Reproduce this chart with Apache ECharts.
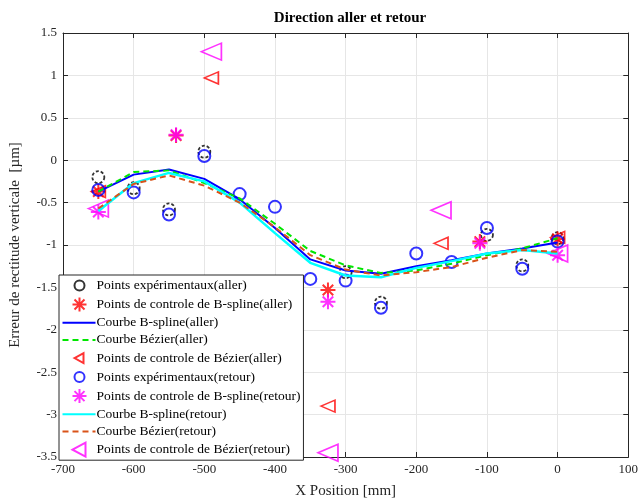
<!DOCTYPE html>
<html>
<head>
<meta charset="utf-8">
<script src="https://cdn.jsdelivr.net/npm/echarts@6/dist/echarts.min.js"></script>
<style>
  html, body { margin: 0; padding: 0; background: #fff; }
  #chart { width: 641px; height: 504px; }
</style>
</head>
<body>
<div id="chart"></div>
<script>
// Positions along the axis (mm) where the fitted curves are evaluated
const curveX = [-650, -600, -550, -500, -450, -400, -350, -300, -250, -200, -150, -100, -50, 0];

// Fitted curves (µm)
const bsplineAller  = [-0.37, -0.17, -0.11, -0.22, -0.46, -0.80, -1.17, -1.30, -1.34, -1.25, -1.18, -1.10, -1.04, -0.97];
const bezierAller   = [-0.37, -0.14, -0.12, -0.27, -0.45, -0.75, -1.07, -1.24, -1.33, -1.30, -1.22, -1.12, -1.04, -0.92];
const bsplineRetour = [-0.60, -0.27, -0.15, -0.25, -0.50, -0.86, -1.21, -1.36, -1.38, -1.27, -1.19, -1.10, -1.06, -1.10];
const bezierRetour  = [-0.57, -0.28, -0.18, -0.30, -0.50, -0.79, -1.12, -1.29, -1.36, -1.32, -1.26, -1.15, -1.06, -1.08];

// Measured points, forward run
const expAllerX = [-650, -600, -550, -500, -300, -250, -100, -50, 0];
const expAllerY = [-0.20, -0.33, -0.58, 0.10, -1.32, -1.68, -0.88, -1.24, -0.92];

// Measured points, return run
const expRetourX = [-650, -600, -550, -500, -450, -400, -350, -300, -250, -200, -150, -100, -50, 0];
const expRetourY = [-0.35, -0.38, -0.64, 0.05, -0.40, -0.55, -1.40, -1.42, -1.74, -1.10, -1.20, -0.80, -1.28, -0.96];

// B-spline control points
const ctrlBsAllerX  = [-650, -540, -325, -110, 0];
const ctrlBsAllerY  = [-0.37, 0.29, -1.53, -0.96, -0.93];
const ctrlBsRetourX = [-650, -540, -325, -110, 0];
const ctrlBsRetourY = [-0.61, 0.30, -1.67, -0.98, -1.12];

// Bézier control points
const ctrlBzAllerX  = [-650, -490, -325, -165, 0];
const ctrlBzAllerY  = [-0.37, 0.97, -2.90, -0.98, -0.91];
const ctrlBzRetourX = [-650, -490, -325, -165, 0];
const ctrlBzRetourY = [-0.57, 1.28, -3.45, -0.59, -1.10];

// Axis ranges
const xRange = { min: -700, max: 100, step: 100 };
const yRange = { min: -3.5, max: 1.5, step: 0.5 };

const seriesNames = [
  'Points expérimentaux(aller)',
  'Points de controle de B-spline(aller)',
  'Courbe B-spline(aller)',
  'Courbe Bézier(aller)',
  'Points de controle de Bézier(aller)',
  'Points expérimentaux(retour)',
  'Points de controle de B-spline(retour)',
  'Courbe B-spline(retour)',
  'Courbe Bézier(retour)',
  'Points de controle de Bézier(retour)'
];

const zip = (xs, ys) => xs.map((x, i) => [x, ys[i]]);
const serif = '"Liberation Serif", "DejaVu Serif", serif';
const asterisk = 'path://M10,0L10,20M0,10L20,10M3,3L17,17M3,17L17,3';

// Legend glyphs: an invisible 33x14 frame (two move-to points) keeps each glyph
// centred in the icon slot at its own size.
const frame = 'path://M0,0M33,14';
const legendIcons = {
  circle:    frame + 'M22,7A5,5,0,1,1,12,7A5,5,0,1,1,22,7Z',
  asterisk:  frame + 'M17,0L17,14M10,7L24,7M12,2L22,12M12,12L22,2',
  triSmall:  frame + 'M12,7L21,2L21,12Z',
  triLarge:  frame + 'M10,7L23,0L23,14Z'
};

function scatter(name, data, symbol, size, color, extra) {
  return Object.assign({
    name, type: 'scatter', data, symbol, symbolSize: size,
    itemStyle: { color: 'none', borderColor: color, borderWidth: 1.6 },
    emphasis: { disabled: true }
  }, extra || {});
}
function curve(name, data, color, width, dashed) {
  return {
    name, type: 'line', data, symbol: 'none', showSymbol: false,
    lineStyle: { color, width, type: dashed ? [6, 4] : 'solid' },
    itemStyle: { color },
    emphasis: { disabled: true }
  };
}

const chart = echarts.init(document.getElementById('chart'), null, { renderer: 'canvas' });

const axisCommon = {
  axisLine: { show: true, onZero: false, lineStyle: { color: '#262626', width: 1 } },
  axisTick: { show: true, inside: true, length: 5, lineStyle: { color: '#262626' } },
  splitLine: { show: false },
  axisLabel: { show: false }
};

const lineLegend = (name) => ({ name, itemStyle: { opacity: 0 } });

chart.setOption({
  animation: false,
  backgroundColor: '#fff',
  title: {
    text: 'Direction aller et retour',
    left: 345, top: 6, textAlign: 'center',
    textStyle: { fontFamily: serif, fontSize: 15, fontWeight: 'bold', color: '#000' }
  },
  grid: { left: 59, right: 11, top: 33, bottom: 46 },
  xAxis: [
    Object.assign({}, axisCommon, {
      type: 'value', min: xRange.min, max: xRange.max, interval: xRange.step,
      position: 'bottom',
      name: 'X Position [mm]', nameLocation: 'middle', nameGap: 27,
      nameTextStyle: { fontFamily: serif, fontSize: 15, color: '#262626' },
      splitLine: { show: true, lineStyle: { color: '#e6e6e6', width: 1 } },
      axisLabel: { show: true, fontFamily: serif, fontSize: 13, color: '#262626', margin: 6 }
    }),
    Object.assign({}, axisCommon, {
      type: 'value', min: xRange.min, max: xRange.max, interval: xRange.step,
      position: 'top'
    })
  ],
  yAxis: [
    Object.assign({}, axisCommon, {
      type: 'value', min: yRange.min, max: yRange.max, interval: yRange.step,
      position: 'left',
      name: 'Erreur de rectitude verticale  [µm]', nameLocation: 'middle', nameGap: 40,
      nameTextStyle: { fontFamily: serif, fontSize: 15, color: '#262626' },
      splitLine: { show: true, lineStyle: { color: '#e6e6e6', width: 1 } },
      axisLabel: { show: true, fontFamily: serif, fontSize: 13, color: '#262626', margin: 6 }
    }),
    Object.assign({}, axisCommon, {
      type: 'value', min: yRange.min, max: yRange.max, interval: yRange.step,
      position: 'right'
    })
  ],
  legend: {
    data: [
      { name: seriesNames[0], icon: legendIcons.circle },
      { name: seriesNames[1], icon: legendIcons.asterisk },
      lineLegend(seriesNames[2]),
      lineLegend(seriesNames[3]),
      { name: seriesNames[4], icon: legendIcons.triSmall },
      { name: seriesNames[5], icon: legendIcons.circle },
      { name: seriesNames[6], icon: legendIcons.asterisk },
      lineLegend(seriesNames[7]),
      lineLegend(seriesNames[8]),
      { name: seriesNames[9], icon: legendIcons.triLarge }
    ],
    orient: 'vertical',
    left: 59, top: 275,
    padding: [1, 3, 1, 1],
    itemGap: 0,
    itemWidth: 33, itemHeight: 14,
    symbolRotate: 0,
    backgroundColor: '#fff',
    borderColor: '#262626', borderWidth: 1,
    textStyle: {
      fontFamily: serif, fontSize: 13.5, color: '#000',
      height: 17.3, lineHeight: 17.3, verticalAlign: 'middle', padding: [0, 0, 0, -4]
    },
    selectedMode: false,
    z: 10
  },
  series: [
    scatter(seriesNames[0], zip(expAllerX, expAllerY), 'circle', 12, '#000', {
      itemStyle: { color: 'none', borderColor: '#000', borderWidth: 1.8, borderType: [3, 2] }
    }),
    scatter(seriesNames[1], zip(ctrlBsAllerX, ctrlBsAllerY), asterisk, 15, '#ff0000', {
      itemStyle: { color: 'none', borderColor: '#ff0000', borderWidth: 2 }
    }),
    curve(seriesNames[2], zip(curveX, bsplineAller), '#0000ff', 2),
    curve(seriesNames[3], zip(curveX, bezierAller), '#00e600', 2, true),
    scatter(seriesNames[4], zip(ctrlBzAllerX, ctrlBzAllerY), 'triangle', [12, 14], '#ff0000', { symbolRotate: 90 }),
    scatter(seriesNames[5], zip(expRetourX, expRetourY), 'circle', 12, '#0000ff', {
      itemStyle: { color: 'none', borderColor: '#0000ff', borderWidth: 2 }
    }),
    scatter(seriesNames[6], zip(ctrlBsRetourX, ctrlBsRetourY), asterisk, 15, '#ff00ff', {
      itemStyle: { color: 'none', borderColor: '#ff00ff', borderWidth: 2 }
    }),
    curve(seriesNames[7], zip(curveX, bsplineRetour), '#00ffff', 2.5),
    curve(seriesNames[8], zip(curveX, bezierRetour), '#d95319', 2, true),
    scatter(seriesNames[9], zip(ctrlBzRetourX, ctrlBzRetourY), 'triangle', [17, 20], '#ff00ff', { symbolRotate: 90 })
  ]
});
</script>
</body>
</html>
